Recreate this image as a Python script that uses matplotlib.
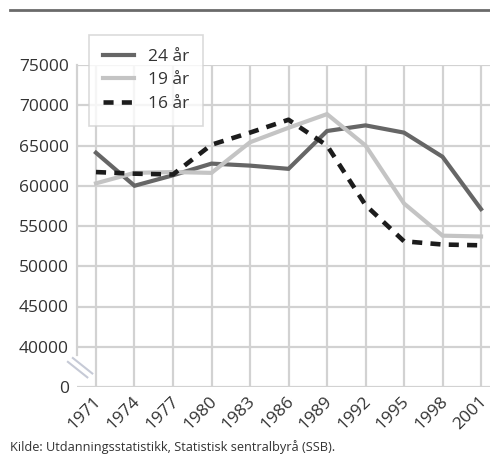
import matplotlib
matplotlib.use('Agg')
import matplotlib.pyplot as plt
from matplotlib.lines import Line2D
from matplotlib.transforms import ScaledTranslation

plt.rcParams['font.family'] = ['Open Sans', 'DejaVu Sans']

years = [1971, 1974, 1977, 1980, 1983, 1986, 1989, 1992, 1995, 1998, 2001]
age24 = [64100, 60000, 61300, 62750, 62500, 62100, 66800, 67500, 66600, 63600, 57100]
age19 = [60300, 61600, 61700, 61600, 65400, 67200, 68900, 65000, 57800, 53800, 53700]
age16 = [61700, 61500, 61400, 65100, 66600, 68200, 65000, 57600, 53100, 52700, 52600]
yticks = [35000, 40000, 45000, 50000, 55000, 60000, 65000, 70000, 75000]
ylabels = ['0', '40000', '45000', '50000', '55000', '60000', '65000', '70000', '75000']

grid_c = '#d2d2d2'
txt_c = '#333333'

fig = plt.figure(figsize=(4.9, 4.61), dpi=100)
ax = fig.add_axes([77/490, 1 - 387/461, 413/490, 322/461])
ax.set_xlim(1969.52, 2001.7)
ax.set_ylim(35000, 75000)

for y in yticks:
    ax.axhline(y, color=grid_c, lw=1.6, zorder=1)
for x in years:
    ax.axvline(x, color=grid_c, lw=1.6, zorder=1)
# left axis line stops above the break
ax.axvline(1969.52, ymin=0.1, ymax=1, color=grid_c, lw=1.6, zorder=1, clip_on=False)

ax.plot(years, age24, color='#666666', lw=3, zorder=3, solid_joinstyle='miter')
ax.plot(years, age19, color='#c4c4c4', lw=3, zorder=3, solid_joinstyle='miter')
ax.plot(years, age16, color='#1c1c1c', lw=3.3, zorder=4, dashes=(2.2, 1.8))

for s in ax.spines.values():
    s.set_visible(False)

ax.set_yticks(yticks)
ax.set_yticklabels(ylabels)
ax.set_xticks(years)
ax.set_xticklabels([str(y) for y in years], rotation=45, ha='right',
                   va='baseline', rotation_mode='anchor')
ax.tick_params(axis='both', length=0, labelsize=12.5, labelcolor=txt_c)
ax.tick_params(axis='y', pad=6)
ax.tick_params(axis='x', pad=10.5)
shift = ScaledTranslation(6/100, 0, fig.dpi_scale_trans)
for lab in ax.get_xticklabels():
    lab.set_transform(lab.get_transform() + shift)

# break marks
for off in (0.0, 0.012):
    ax.plot([-0.022 + off, 0.025 + off], [0.078 + off, 0.03 + off],
            transform=ax.transAxes, color='#c6cad6', lw=1.5, clip_on=False)

handles = [
    Line2D([], [], color='#666666', lw=3),
    Line2D([], [], color='#c4c4c4', lw=3),
    Line2D([], [], color='#1c1c1c', lw=3.3, dashes=(2.2, 1.8)),
]
leg = fig.legend(handles, ['24 år', '19 år', '16 år'], loc='upper left',
                 bbox_to_anchor=(89/490, 1 - 35/461), borderaxespad=0,
                 fontsize=12.5, frameon=True, fancybox=False, handlelength=1.8,
                 labelspacing=0.42, borderpad=0.8, handletextpad=0.8)
leg.get_frame().set_edgecolor(grid_c)
leg.get_frame().set_linewidth(1.2)
for t in leg.get_texts():
    t.set_color(txt_c)

fig.add_artist(Line2D([10/490, 1], [1 - 10/461, 1 - 10/461], color='#6a6a6a', lw=2))
fig.text(10/490, 1 - 447/461, 'Kilde: Utdanningsstatistikk, Statistisk sentralbyrå (SSB).',
         fontsize=9.2, color=txt_c, va='center')

fig.savefig('out.png', dpi=100)
